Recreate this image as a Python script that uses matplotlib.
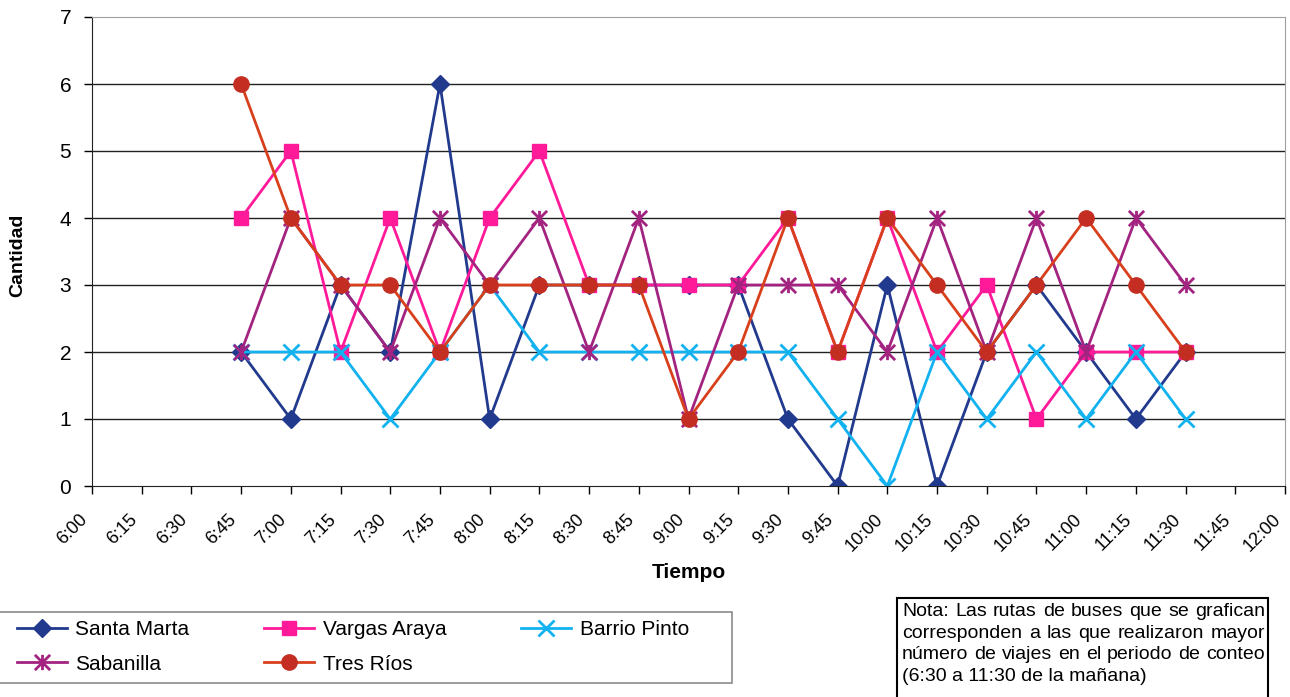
import matplotlib
matplotlib.use("Agg")
import matplotlib.pyplot as plt
from matplotlib.path import Path
from matplotlib.patches import Rectangle
from matplotlib.transforms import ScaledTranslation

plt.rcParams['font.family'] = ['Liberation Sans', 'DejaVu Sans']

# horas de conteo (eje x completo) y horas con datos
horas = ["6:00", "6:15", "6:30", "6:45", "7:00", "7:15", "7:30", "7:45", "8:00",
         "8:15", "8:30", "8:45", "9:00", "9:15", "9:30", "9:45", "10:00", "10:15",
         "10:30", "10:45", "11:00", "11:15", "11:30", "11:45", "12:00"]
horas_datos = horas[3:23]

santa_marta = [2, 1, 3, 2, 6, 1, 3, 3, 3, 3, 3, 1, 0, 3, 0, 2, 3, 2, 1, 2]
vargas_araya = [4, 5, 2, 4, 2, 4, 5, 3, 3, 3, 3, 4, 2, 4, 2, 3, 1, 2, 2, 2]
barrio_pinto = [2, 2, 2, 1, 2, 3, 2, 2, 2, 2, 2, 2, 1, 0, 2, 1, 2, 1, 2, 1]
sabanilla = [2, 4, 3, 2, 4, 3, 4, 2, 4, 1, 3, 3, 3, 2, 4, 2, 4, 2, 4, 3]
tres_rios = [6, 4, 3, 3, 2, 3, 3, 3, 3, 1, 2, 4, 2, 4, 3, 2, 3, 4, 3, 2]

nota = ["Nota: Las rutas de buses que se grafican",
        "corresponden a las que realizaron mayor",
        "número de viajes en el periodo de conteo",
        "(6:30 a 11:30 de la mañana)"]

W, H = 1290, 697
fig = plt.figure(figsize=(W / 100, H / 100), dpi=100)
fig.patch.set_facecolor('white')

def fx(px):
    return px / W

def fy(py):
    return 1 - py / H

ax = fig.add_axes([fx(92), fy(486), fx(1285 - 92), (486 - 17) / H])

# marcador tipo asterisco: cruz en x con linea vertical
asterisco = Path([(0, -1), (0, 1), (-1, -1), (1, 1), (-1, 1), (1, -1)],
                 [Path.MOVETO, Path.LINETO, Path.MOVETO, Path.LINETO, Path.MOVETO, Path.LINETO])

xs = [horas.index(h) for h in horas_datos]
series = [
    ("Santa Marta", santa_marta, '#223a8e', dict(marker='D', ms=9, mfc='#223a8e', mec='#223a8e')),
    ("Vargas Araya", vargas_araya, '#ff1a9a', dict(marker='s', ms=10, mfc='#ff1a9a', mec='#ff1a9a')),
    ("Barrio Pinto", barrio_pinto, '#12b2f0', dict(marker='x', ms=11, mew=2)),
    ("Sabanilla", sabanilla, '#a32380', dict(marker=asterisco, ms=11, mew=2)),
    ("Tres Ríos", tres_rios, '#d8401c', dict(marker='o', ms=11, mfc='#c42e22', mec='#c42e22')),
]
lineas = {}
for nombre, vals, color, kw in series:
    ln, = ax.plot(xs, vals, color=color, lw=2, label=nombre, **kw)
    lineas[nombre] = ln

ax.set_xlim(0, len(horas) - 1)
ax.set_ylim(0, 7)
ax.set_yticks(range(8))
ax.set_xticks(range(len(horas)))
ax.set_xticklabels(horas, rotation=45, ha='right', rotation_mode='anchor')
for y in range(1, 7):
    ax.axhline(y, color='#222222', lw=1, zorder=0.5)

ax.tick_params(axis='y', labelsize=15, length=6, width=1, pad=9, direction='out')
ax.tick_params(axis='x', labelsize=13, length=6, width=1, pad=12, direction='out')
desplaza = ScaledTranslation(-0.13, 0, fig.dpi_scale_trans)
for lbl in ax.get_xticklabels():
    lbl.set_transform(lbl.get_transform() + desplaza)
ax.spines['left'].set_color('#222222')
ax.spines['bottom'].set_color('#222222')
ax.spines['top'].set_color('#a0a0a0')
ax.spines['right'].set_color('#a0a0a0')

fig.text(fx(18), fy(255), "Cantidad", rotation=90, ha='center', va='center',
         fontsize=14, fontweight='bold')
fig.text(fx(689), fy(573), "Tiempo", ha='center', va='center',
         fontsize=15, fontweight='bold')

# recuadro de la leyenda
fig.patches.append(Rectangle((fx(-3), fy(683)), fx(735), (683 - 612) / H,
                             transform=fig.transFigure, fill=False,
                             edgecolor='#8a8a8a', lw=1.2))
orden = ["Santa Marta", "Sabanilla", "Vargas Araya", "Tres Ríos", "Barrio Pinto"]
fig.legend([lineas[n] for n in orden], orden, loc='upper left',
           bbox_to_anchor=(fx(17), fy(620)), ncol=3, frameon=False,
           fontsize=15, handlelength=2.4, handletextpad=0.4,
           columnspacing=3.6, labelspacing=0.75, borderpad=0, borderaxespad=0)

# recuadro de la nota, texto justificado
fig.patches.append(Rectangle((fx(897), fy(700)), fx(1268 - 897), (700 - 598) / H,
                             transform=fig.transFigure, fill=False,
                             edgecolor='black', lw=1.5))
izq, der = 902, 1265
fig.canvas.draw()
renderer = fig.canvas.get_renderer()
for i, linea in enumerate(nota):
    base = fy(616 + i * 21.7)
    if i == len(nota) - 1:
        fig.text(fx(izq), base, linea, fontsize=14, va='baseline', ha='left')
        continue
    palabras = linea.split()
    textos = [fig.text(0, base, p, fontsize=14, va='baseline', ha='left') for p in palabras]
    anchos = [t.get_window_extent(renderer).width for t in textos]
    hueco = (der - izq - sum(anchos)) / (len(palabras) - 1)
    x = izq
    for t, a in zip(textos, anchos):
        t.set_x(fx(x))
        x += a + hueco

fig.savefig("out.png", dpi=100, facecolor='white')
